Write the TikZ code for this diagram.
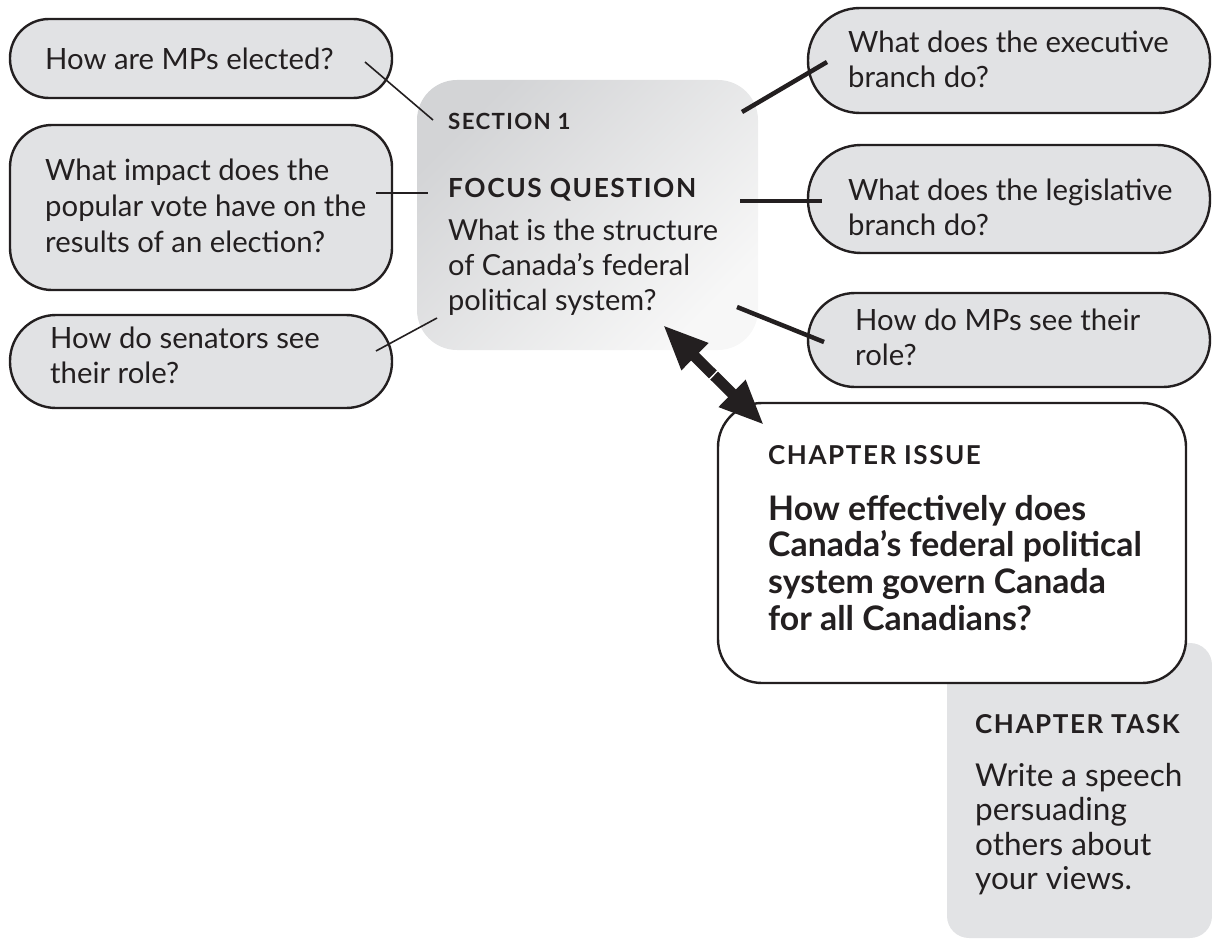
\documentclass[tikz,border=0pt]{standalone}
\usepackage{fontspec}
\setmainfont{Lato}
\newfontfamily\headfont[LetterSpace=6]{Lato}
\usetikzlibrary{arrows.meta,calc}
\definecolor{ink}{HTML}{231F20}
\definecolor{boxgray}{HTML}{E1E2E4}
\definecolor{taskgray}{HTML}{E2E3E5}
\definecolor{cdark}{HTML}{D3D4D6}
\definecolor{clight}{HTML}{F7F7F7}
\tikzset{
  qbox/.style={draw=ink, line width=2.4pt, fill=boxgray, inner sep=0pt},
  txt/.style={anchor=base west, inner sep=0pt, text=ink, font=\fontsize{29.3}{35}\selectfont},
  thinlink/.style={draw=ink, line width=1.6pt},
  thicklink/.style={draw=ink, line width=4.5pt},
  head/.style={anchor=base west, inner sep=0pt, text=ink, font=\headfont\bfseries\fontsize{26}{30}\selectfont},
}
\begin{document}
\begin{tikzpicture}[x=1pt,y=-1pt]
\useasboundingbox (0,0) rectangle (1212,939);

% chapter task box (behind)
\node[fill=taskgray, rounded corners=22pt, minimum width=265pt, minimum height=295pt, inner sep=0pt] (task) at (1079.5,790.5) {};

% central box
\node[rounded corners=40pt, minimum width=341pt, minimum height=270pt, inner sep=0pt,
      top color=cdark, bottom color=clight, shading angle=45] (cen) at (587.5,215) {};

% left boxes
\node[qbox, rounded corners=39pt, minimum width=382pt, minimum height=79pt] (b1) at (201,58.5) {};
\node[qbox, rounded corners=42pt, minimum width=382pt, minimum height=165pt] (b2) at (201,207.5) {};
\node[qbox, rounded corners=46pt, minimum width=382pt, minimum height=93pt] (b3) at (201,361.5) {};
% right boxes
\node[qbox, rounded corners=52pt, minimum width=402pt, minimum height=105pt] (ex) at (1009,60.5) {};
\node[qbox, rounded corners=53pt, minimum width=402pt, minimum height=108pt] (lg) at (1009,199) {};
\node[qbox, rounded corners=47pt, minimum width=402pt, minimum height=94pt] (mp) at (1009,340) {};
% chapter issue
\node[draw=ink, line width=2.4pt, fill=white, rounded corners=44pt, minimum width=468pt, minimum height=280pt, inner sep=0pt] (iss) at (952,543) {};

% texts
\node[txt] (t1) at (45,70) {How are MPs elected?};
\node[txt, font=\fontsize{29.3}{36}\selectfont] (t2) at (45,180) {\vtop{\hbox{What impact does the}\hbox{popular vote have on the}\hbox{results of an election?}}};
\node[txt] (t3) at (50,348) {\vtop{\hbox{How do senators see}\hbox{their role?}}};
\node[txt] (tex) at (848,53) {\vtop{\hbox{What does the executive}\hbox{branch do?}}};
\node[txt] (tlg) at (848,200) {\vtop{\hbox{What does the legislative}\hbox{branch do?}}};
\node[txt] (tmp) at (855,330) {\vtop{\hbox{How do MPs see their}\hbox{role?}}};

\node[head, font=\headfont\bfseries\fontsize{22.3}{26}\selectfont] (sec) at (448,130) {SECTION 1};
\node[head, font=\headfont\bfseries\fontsize{26.3}{30}\selectfont] (fq) at (448,197) {FOCUS QUESTION};
\node[txt, font=\fontsize{29}{35}\selectfont] (tcen) at (448,240) {\vtop{\hbox{What is the structure}\hbox{of Canada’s federal}\hbox{political system?}}};

\node[head] (ci) at (768,464) {CHAPTER ISSUE};
\node[txt, font=\bfseries\fontsize{33.8}{36.7}\selectfont] (tiss) at (768,520) {\vtop{\hbox{How effectively does}\hbox{Canada’s federal political}\hbox{system govern Canada}\hbox{for all Canadians?}}};

\node[head] (ct) at (975,733) {CHAPTER TASK};
\node[txt, font=\fontsize{31.5}{34.6}\selectfont] (ttask) at (975,786) {\vtop{\hbox{Write a speech}\hbox{persuading}\hbox{others about}\hbox{your views.}}};

% connector end points
\coordinate (c1a) at (365,62);  \coordinate (c1b) at (433,120);
\coordinate (c2a) at (376,193); \coordinate (c2b) at (428,193);
\coordinate (c3a) at (376,351); \coordinate (c3b) at (437,318);
\coordinate (c4a) at (742,112); \coordinate (c4b) at (827,62);
\coordinate (c5a) at (740,201); \coordinate (c5b) at (822,201);
\coordinate (c6a) at (737,307); \coordinate (c6b) at (824,342);
\coordinate (arA) at (663,325); \coordinate (arB) at (764,425);

\draw[thinlink] (c1a) -- (c1b);
\draw[thinlink] (c2a) -- (c2b);
\draw[thinlink] (c3a) -- (c3b);
\draw[thicklink] (c4a) -- (c4b);
\draw[thicklink] (c5a) -- (c5b);
\draw[thicklink] (c6a) -- (c6b);

\draw[draw=ink, line width=11pt, {Triangle[length=45pt,width=35pt]}-{Triangle[length=45pt,width=35pt]}] (arA) -- (arB);
\coordinate (arM) at ($(arA)!0.5!(arB)$);
\draw[white, line width=1.4pt] ($(arM)!6.5pt!90:(arB)$) -- ($(arM)!6.5pt!-90:(arB)$);
\end{tikzpicture}
\end{document}
